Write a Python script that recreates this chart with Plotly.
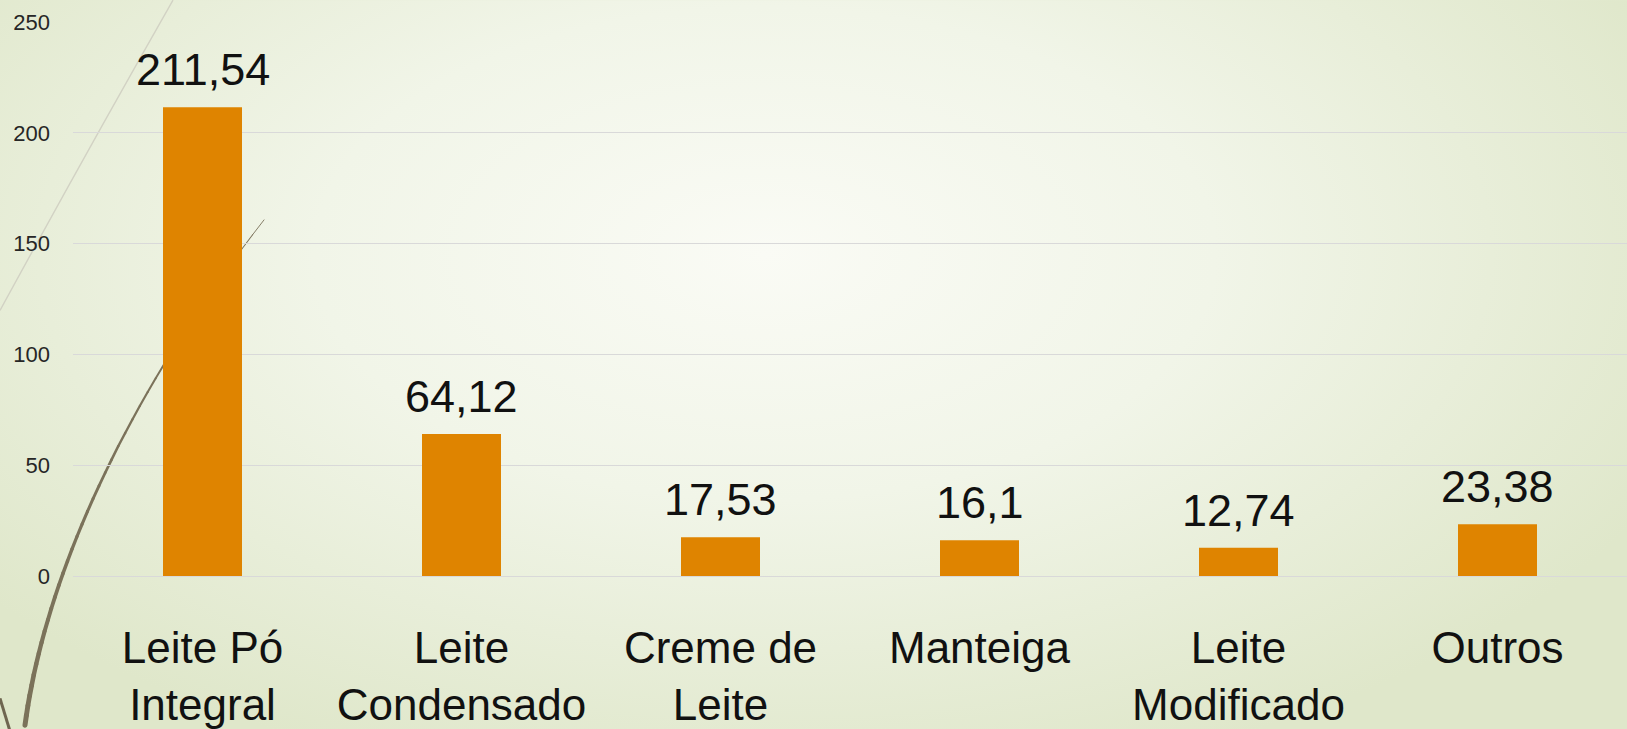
import base64
import plotly.graph_objects as go

# ---- data ----
categories = ["Leite Pó Integral", "Leite Condensado", "Creme de Leite",
              "Manteiga", "Leite Modificado", "Outros"]
tick_labels = ["Leite Pó<br>Integral", "Leite<br>Condensado", "Creme de<br>Leite",
               "Manteiga", "Leite<br>Modificado", "Outros"]
values = [211.54, 64.12, 17.53, 16.1, 12.74, 23.38]
value_labels = ["211,54", "64,12", "17,53", "16,1", "12,74", "23,38"]
y_ticks = [0, 50, 100, 150, 200, 250]

# ---- layout geometry ----
W, H = 1627, 729
ML, MR, MT, MB = 73, 0, 22, 150
PW, PH = W - ML - MR, H - MT - MB
EXT = 12  # background overscan

FONT = "'Liberation Sans', Arial, sans-serif"

# ---- decorative background (slide theme) as SVG ----
def cubic(p0, p1, p2, p3, t):
    u = 1 - t
    return (u**3*p0[0] + 3*u*u*t*p1[0] + 3*u*t*t*p2[0] + t**3*p3[0],
            u**3*p0[1] + 3*u*u*t*p1[1] + 3*u*t*t*p2[1] + t**3*p3[1])

segs = []
N = 40
P = [(25, 729), (42, 600), (110, 420), (264, 221)]
pts = [cubic(*P, i / N) for i in range(N + 1)]
for i in range(N):
    w = 5.0 - 4.2 * (i / N)
    (x0, y0), (x1, y1) = pts[i], pts[i + 1]
    segs.append(f'<line x1="{x0:.1f}" y1="{y0:.1f}" x2="{x1:.1f}" y2="{y1:.1f}" '
                f'stroke="#7B725A" stroke-width="{w:.2f}" stroke-linecap="round"/>')

BW, BH = W + EXT, H + EXT
svg = f'''<svg xmlns="http://www.w3.org/2000/svg" width="{BW}" height="{BH}" viewBox="0 0 {BW} {BH}">
<defs>
<radialGradient id="g" gradientUnits="userSpaceOnUse" cx="765" cy="255" r="1000" fx="765" fy="255"
 gradientTransform="translate(765 255) scale(1 0.55) translate(-765 -255)">
<stop offset="0" stop-color="#FAFBF5"/>
<stop offset="0.45" stop-color="#F1F5E8"/>
<stop offset="1" stop-color="#DFE7CA"/>
</radialGradient>
</defs>
<rect x="0" y="0" width="{BW}" height="{BH}" fill="url(#g)"/>
<path d="M 173 0 Q 88 150 0 312" fill="none" stroke="#D2D2C4" stroke-width="1.4"/>
{''.join(segs)}
<path d="M 0 702 L 10 735" fill="none" stroke="#6F6650" stroke-width="3"/>
</svg>'''
uri = "data:image/svg+xml;base64," + base64.b64encode(svg.encode()).decode()

fig = go.Figure()
fig.add_trace(go.Bar(
    x=categories, y=values,
    marker=dict(color="#DF8400", line=dict(width=0)),
    hoverinfo="skip",
))

for c, v, t in zip(categories, values, value_labels):
    fig.add_annotation(x=c, y=v, text=t, showarrow=False, yanchor="bottom",
                       yshift=10, font=dict(family=FONT, size=45, color="#111111"))

fig.update_layout(
    width=W, height=H, autosize=False,
    margin=dict(l=ML, r=MR, t=MT, b=MB, pad=0),
    paper_bgcolor="#E4EBD3",
    plot_bgcolor="rgba(0,0,0,0)",
    bargap=0.695,
    showlegend=False,
    images=[dict(source=uri, xref="paper", yref="paper",
                 x=-ML / PW, y=(PH + MT) / PH, sizex=BW / PW, sizey=BH / PH,
                 xanchor="left", yanchor="top", sizing="stretch", layer="below")],
)
fig.update_xaxes(
    tickmode="array", tickvals=categories, ticktext=tick_labels,
    tickfont=dict(family=FONT, size=44, color="#111111"),
    showgrid=False, showline=False, zeroline=False, ticks="",
    ticklabelstandoff=42,
)
fig.update_yaxes(
    range=[0, 250], tickmode="array", tickvals=y_ticks,
    tickfont=dict(family=FONT, size=22, color="#262626"),
    showgrid=True, gridcolor="#D9D9D9", gridwidth=1,
    zeroline=True, zerolinecolor="#D9D9D9", zerolinewidth=1,
    showline=False, ticks="", ticklabelstandoff=22,
)

fig.write_html(
    "out.html",
    config={"displayModeBar": False},
    post_script="document.body.style.margin='0';document.body.style.overflow='hidden';",
)
